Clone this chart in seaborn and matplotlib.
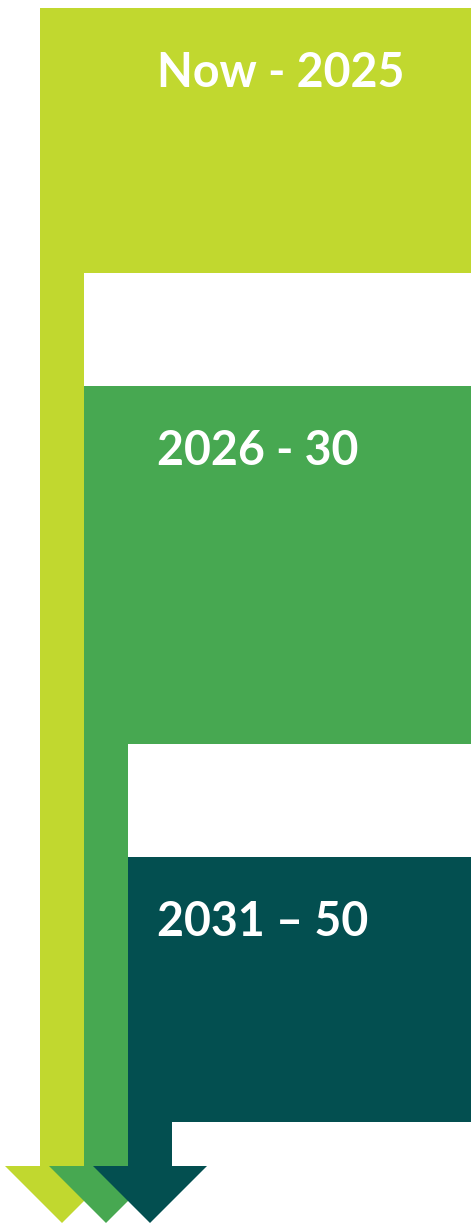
import matplotlib
matplotlib.use("Agg")
import matplotlib.pyplot as plt
from matplotlib.patches import Rectangle, Polygon
import seaborn as sns

# Timeline data
periods = ["Now - 2025", "2026 - 30", "2031 \u2013 50"]
colors = ["#C1D82F", "#47A851", "#034F50"]

sns.set_theme(style="white")
plt.rcParams["font.family"] = ["Lato", "DejaVu Sans"]

W, H = 471, 1226
fig = plt.figure(figsize=(W / 100, H / 100), dpi=100)
ax = fig.add_axes([0, 0, 1, 1])
ax.set_xlim(0, W)
ax.set_ylim(H, 0)
ax.axis("off")

# layout
stripe_w = 44
first_x = 40
block_tops = [8, 386, 857]
block_h = [265, 358, 265]
arrow_base = 1166
arrow_tip = 1223
arrow_half = 57
text_base = [87, 465, 936]

for i, (label, col) in enumerate(zip(periods, colors)):
    x0 = first_x + i * stripe_w
    top = block_tops[i]
    # block
    ax.add_patch(Rectangle((x0, top), W - x0, block_h[i], facecolor=col, lw=0))
    # stripe down to the arrow
    ax.add_patch(Rectangle((x0, top), stripe_w, arrow_base - top + 1, facecolor=col, lw=0))
    # arrow head
    cx = x0 + stripe_w / 2
    ax.add_patch(Polygon([(cx - arrow_half, arrow_base), (cx + arrow_half, arrow_base),
                          (cx, arrow_tip)], closed=True, facecolor=col, lw=0))
    ax.text(157, text_base[i], label, color="white", fontsize=33.5, fontweight="bold",
            ha="left", va="baseline")

fig.savefig("out.png", dpi=100, facecolor="white")
